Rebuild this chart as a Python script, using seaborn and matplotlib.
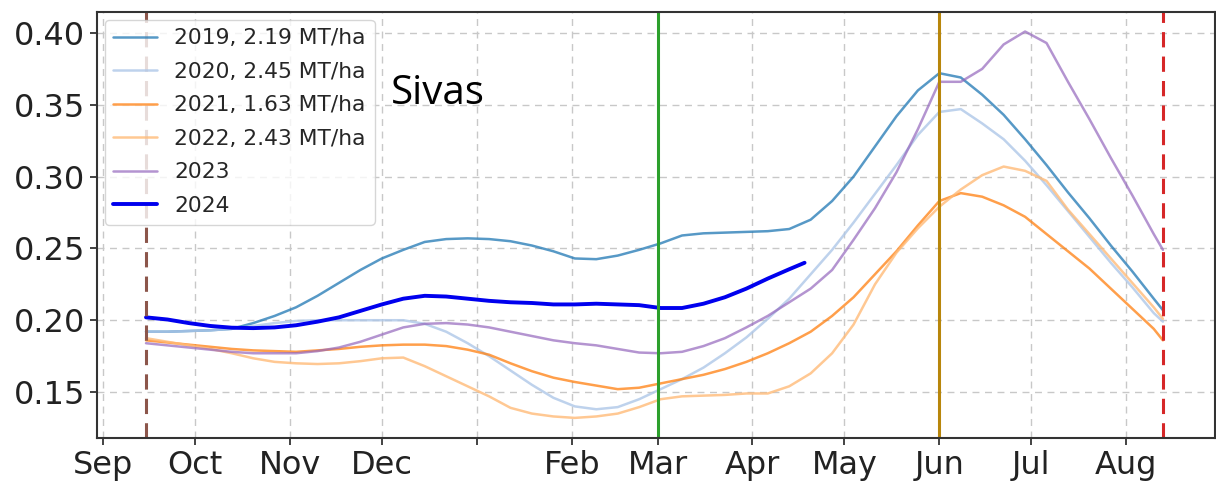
import numpy as np
import pandas as pd
import matplotlib
matplotlib.use("Agg")
import matplotlib.pyplot as plt
import seaborn as sns

# Season axis: days counted from 1 September
month_ticks = [0, 30, 61, 91, 122, 153, 181, 212, 242, 273, 303, 334]
month_labels = ["Sep", "Oct", "Nov", "Dec", "", "Feb", "Mar", "Apr", "May", "Jun", "Jul", "Aug"]

days = [14, 21, 28, 35, 42, 49, 56, 63, 70, 77, 84, 91, 98, 105, 112, 119, 126,
        133, 140, 147, 154, 161, 168, 175, 182, 189, 196, 203, 210, 217, 224, 231,
        238, 245, 252, 259, 266, 273, 280, 287, 294, 301, 308, 315, 322, 329, 336,
        343, 346]

ndvi_2019 = [0.192, 0.192, 0.1925, 0.193, 0.194, 0.198, 0.203, 0.209, 0.217, 0.226,
             0.235, 0.243, 0.249, 0.2545, 0.2565, 0.257, 0.2565, 0.255, 0.252, 0.248,
             0.243, 0.2425, 0.245, 0.249, 0.2535, 0.259, 0.2605, 0.261, 0.2615, 0.262,
             0.2635, 0.270, 0.283, 0.300, 0.321, 0.342, 0.360, 0.372, 0.369, 0.357,
             0.343, 0.326, 0.308, 0.289, 0.271, 0.252, 0.234, 0.215, 0.207]

ndvi_2020 = [0.192, 0.192, 0.1925, 0.193, 0.194, 0.196, 0.198, 0.1995, 0.200, 0.200,
             0.200, 0.200, 0.200, 0.1975, 0.192, 0.184, 0.175, 0.165, 0.155, 0.146,
             0.140, 0.138, 0.1395, 0.145, 0.152, 0.159, 0.167, 0.177, 0.188, 0.201,
             0.215, 0.232, 0.249, 0.268, 0.288, 0.308, 0.329, 0.345, 0.347, 0.337,
             0.326, 0.311, 0.294, 0.276, 0.258, 0.240, 0.223, 0.205, 0.199]

ndvi_2021 = [0.186, 0.1845, 0.183, 0.1815, 0.180, 0.179, 0.1785, 0.178, 0.179, 0.180,
             0.1815, 0.1825, 0.183, 0.183, 0.182, 0.1795, 0.176, 0.170, 0.1645, 0.160,
             0.157, 0.1545, 0.152, 0.153, 0.156, 0.159, 0.162, 0.166, 0.171, 0.177,
             0.184, 0.192, 0.203, 0.216, 0.232, 0.248, 0.266, 0.283, 0.2885, 0.286,
             0.280, 0.272, 0.260, 0.248, 0.236, 0.222, 0.208, 0.194, 0.186]

ndvi_2022 = [0.1875, 0.185, 0.1825, 0.180, 0.177, 0.1735, 0.171, 0.170, 0.1695, 0.170,
             0.1715, 0.1735, 0.174, 0.168, 0.161, 0.154, 0.147, 0.139, 0.135, 0.133,
             0.132, 0.133, 0.135, 0.1395, 0.145, 0.147, 0.1475, 0.148, 0.149, 0.149,
             0.154, 0.163, 0.177, 0.197, 0.225, 0.247, 0.264, 0.279, 0.291, 0.301,
             0.307, 0.304, 0.297, 0.277, 0.260, 0.243, 0.226, 0.209, 0.201]

ndvi_2023 = [0.184, 0.1825, 0.181, 0.1795, 0.178, 0.177, 0.177, 0.177, 0.1785, 0.181,
             0.185, 0.190, 0.195, 0.1975, 0.198, 0.197, 0.195, 0.192, 0.189, 0.186,
             0.184, 0.1825, 0.180, 0.1775, 0.177, 0.178, 0.182, 0.1875, 0.195, 0.203,
             0.2125, 0.222, 0.235, 0.256, 0.278, 0.303, 0.333, 0.366, 0.366, 0.375,
             0.392, 0.401, 0.393, 0.366, 0.340, 0.313, 0.287, 0.260, 0.249]

days_2024 = [14, 21, 28, 35, 42, 49, 56, 63, 70, 77, 84, 91, 98, 105, 112, 119, 126,
             133, 140, 147, 154, 161, 168, 175, 182, 189, 196, 203, 210, 217, 224, 229]
ndvi_2024 = [0.202, 0.2005, 0.198, 0.196, 0.1948, 0.1945, 0.195, 0.1965, 0.199, 0.202,
             0.2065, 0.211, 0.215, 0.217, 0.2165, 0.215, 0.2135, 0.2125, 0.212, 0.211,
             0.211, 0.2115, 0.211, 0.2105, 0.2085, 0.2085, 0.2115, 0.216, 0.222, 0.229,
             0.2355, 0.240]

series = [
    ("2019, 2.19 MT/ha", days, ndvi_2019, "#1f77b4", 1.8, 0.75),
    ("2020, 2.45 MT/ha", days, ndvi_2020, "#aec7e8", 1.8, 0.8),
    ("2021, 1.63 MT/ha", days, ndvi_2021, "#ff7f0e", 1.8, 0.75),
    ("2022, 2.43 MT/ha", days, ndvi_2022, "#ffbb78", 1.8, 0.8),
    ("2023", days, ndvi_2023, "#9467bd", 1.8, 0.7),
    ("2024", days_2024, ndvi_2024, "#0000ee", 2.8, 1.0),
]

sowing_day = 14
spring_day = 181
heading_day = 273
harvest_day = 346

sns.set_style("ticks")
plt.rcParams["font.family"] = ["DejaVu Sans"]

fig = plt.figure(figsize=(12.16, 4.88), dpi=100)
ax = fig.add_axes([97 / 1216, 1 - 438 / 488, 1118 / 1216, 426 / 488])

for label, x, y, color, lw, alpha in series:
    sns.lineplot(x=x, y=y, ax=ax, color=color, lw=lw, alpha=alpha, label=label,
                 estimator=None, sort=False)

ax.axvline(sowing_day, color="#8c564b", ls="--", lw=2.2, dashes=(5, 3))
ax.axvline(spring_day, color="#2ca02c", lw=2.2)
ax.axvline(heading_day, color="#b8860b", lw=2.2)
ax.axvline(harvest_day, color="#d62728", ls="--", lw=2.2, dashes=(5, 3))

ax.set_xlim(-2, 363)
ax.set_ylim(0.118, 0.4146)
ax.set_xticks(month_ticks)
ax.set_xticklabels(month_labels)
ax.set_yticks([0.15, 0.20, 0.25, 0.30, 0.35, 0.40])
ax.set_yticklabels(["0.15", "0.20", "0.25", "0.30", "0.35", "0.40"])
ax.tick_params(axis="both", labelsize=23, length=5, width=1.2, colors="#222222")
ax.set_xlabel("")
ax.set_ylabel("")
ax.grid(True, ls=(0, (5, 4)), color="#c8c8c8", lw=1.0)
for sp in ax.spines.values():
    sp.set_visible(True)
    sp.set_color("#333333")
    sp.set_linewidth(1.5)

ax.text(0.263, 0.784, "Sivas", transform=ax.transAxes, fontsize=29,
        family=["Open Sans", "DejaVu Sans"], color="black")

leg = ax.legend(loc="upper left", fontsize=15.7, frameon=True, handlelength=2.0,
                borderaxespad=0.35, labelspacing=0.62)
leg.get_frame().set_edgecolor("#cccccc")

fig.savefig("out.png", dpi=100)
